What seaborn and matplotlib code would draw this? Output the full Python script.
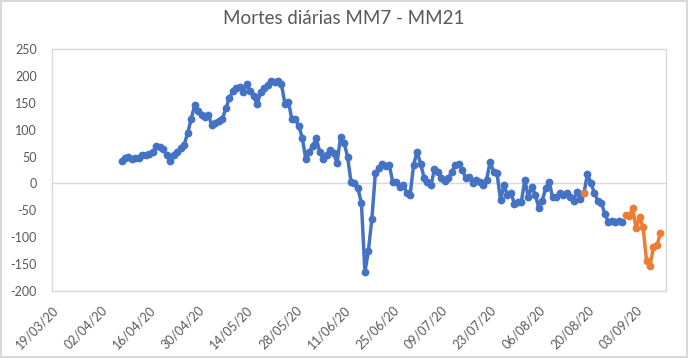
import matplotlib
matplotlib.use("Agg")
import matplotlib.pyplot as plt
import matplotlib.dates as mdates
import seaborn as sns
import pandas as pd

# ---- data ----
title = "Mortes diárias MM7 - MM21"

blue_start = "2020-04-08"
blue_values = [
    41, 47, 50, 46, 47, 48, 52, 53, 55, 58,
    70, 68, 64, 52, 41, 52, 58, 65, 72, 93,
    119, 145, 134, 128, 124, 127, 108, 112, 116, 120,
    140, 158, 172, 178, 180, 170, 184, 172, 163, 147,
    170, 178, 183, 190, 189, 191, 184, 148, 152, 119,
    119, 107, 84, 45, 59, 70, 84, 59, 45, 53,
    62, 56, 38, 87, 76, 50, 3, 0, -9, -37,
    -165, -125, -66, 19, 28, 37, 32, 34, 3, 3,
    -6, -2, -17, -21, 34, 59, 37, 11, 3, -3,
    26, 22, 11, 5, 10, 22, 34, 37, 25, 11,
    12, 1, 7, 3, -2, 7, 40, 22, 19, -31,
    -3, -21, -17, -38, -34, -34, 7, -26, -6, -21,
    -45, -32, -9, 3, -26, -25, -18, -22, -18, -25,
    -32, -15, -28, -18, 17, 1, -18, -32, -36, -56,
    -71, -69, -71, -70, -71,
]

orange_dates = ["2020-08-19",
                "2020-08-31", "2020-09-01", "2020-09-02", "2020-09-03",
                "2020-09-04", "2020-09-05", "2020-09-06", "2020-09-07",
                "2020-09-08", "2020-09-09", "2020-09-10"]
orange_values = [-18,
                 -59, -61, -46, -83, -63, -81, -144, -153, -119, -115, -93]
orange_segments = [0, 1, 1, 1, 1, 1, 1, 1, 1, 1, 1, 1]

tick_dates = ["2020-03-19", "2020-04-02", "2020-04-16", "2020-04-30",
              "2020-05-14", "2020-05-28", "2020-06-11", "2020-06-25",
              "2020-07-09", "2020-07-23", "2020-08-06", "2020-08-20",
              "2020-09-03"]
y_ticks = [-200, -150, -100, -50, 0, 50, 100, 150, 200, 250]

# ---- frames ----
blue_df = pd.DataFrame({
    "date": pd.date_range(blue_start, periods=len(blue_values), freq="D"),
    "value": blue_values,
})
orange_df = pd.DataFrame({
    "date": pd.to_datetime(orange_dates),
    "value": orange_values,
    "seg": orange_segments,
})

sns.set_theme(style="white")
plt.rcParams["font.family"] = ["Lato", "DejaVu Sans"]

BLUE = "#4472C4"
ORANGE = "#ED7D31"
GRID = "#D9D9D9"
TXT = "#595959"

W, H = 688, 358
fig = plt.figure(figsize=(W / 100, H / 100), dpi=100)
fig.patch.set_facecolor("white")
fig.patch.set_edgecolor(GRID)
fig.patch.set_linewidth(1.5)

L, R, T, B = 52, 666, 49, 291
ax = fig.add_axes([L / W, 1 - B / H, (R - L) / W, (B - T) / H])

ax.axhline(0, color=GRID, lw=1.0, zorder=0)

sns.lineplot(data=blue_df, x="date", y="value", ax=ax, color=BLUE,
             marker="o", markersize=5.6, markeredgewidth=0, linewidth=2.5)
sns.lineplot(data=orange_df, x="date", y="value", units="seg", estimator=None,
             ax=ax, color=ORANGE, marker="o", markersize=5.6,
             markeredgewidth=0, linewidth=2.5)

x0 = mdates.date2num(pd.Timestamp("2020-03-19"))
ax.set_xlim(x0, x0 + 176.6)
ax.set_ylim(-200, 250)
ax.set_yticks(y_ticks)
ax.set_yticklabels([str(v) for v in y_ticks])
ticks = pd.to_datetime(tick_dates)
ax.set_xticks(ticks)
ax.set_xticklabels([d.strftime("%d/%m/%y") for d in ticks], rotation=45,
                   ha="right", va="top", rotation_mode="anchor")

ax.set_xlabel("")
ax.set_ylabel("")
ax.tick_params(axis="both", length=0, labelsize=9, colors=TXT)
ax.tick_params(axis="y", pad=11)
ax.tick_params(axis="x", pad=9)
for s in ax.spines.values():
    s.set_visible(True)
    s.set_color(GRID)
    s.set_linewidth(1.0)
ax.grid(False)
if ax.get_legend() is not None:
    ax.get_legend().remove()

fig.text(0.5, 1 - 18 / H, title, ha="center", va="center",
         fontsize=13.5, color=TXT)

fig.savefig("out.png", dpi=100, facecolor="white", edgecolor=GRID)
